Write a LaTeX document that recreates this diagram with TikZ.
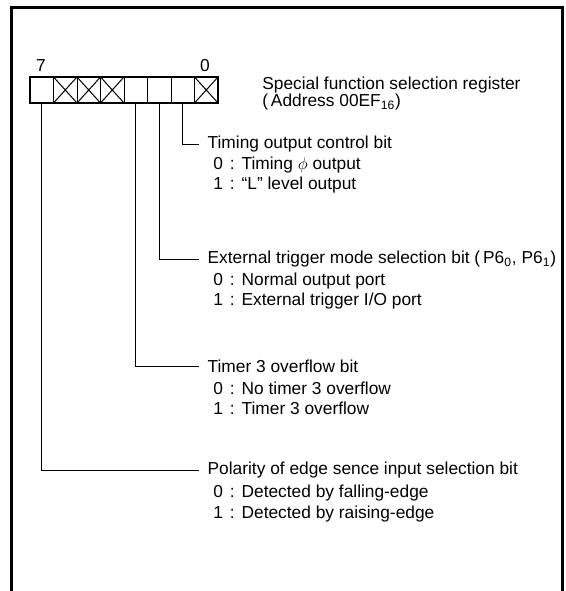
\documentclass[tikz,border=0pt]{standalone}
\usepackage{fontspec}
\setmainfont{Liberation Sans}
\usetikzlibrary{positioning}

\newcommand\bitopt[2]{#1\hspace{0.4em}:\hspace{0.4em}#2}

\begin{document}
\begin{tikzpicture}[
    x=0.6pt, y=-0.6pt,
    every node/.style={font=\fontsize{10.4}{12.5}\selectfont},
    frame/.style={line width=1.8pt},
    regbox/.style={line width=1.6pt},
    cell/.style={line width=0.6pt},
    leader/.style={line width=0.6pt},
    hdr/.style={anchor=west, inner xsep=5pt, inner ysep=1pt},
    choice/.style={anchor=west, inner sep=0pt}
]
\useasboundingbox (0,0) rectangle (566,591);

% outer frame, open at the bottom
\draw[frame] (11,591) |- (562,7) -- (562,591);

% register cells, bit 7 on the left
\foreach \i in {0,...,7}
    \draw[cell] ({30+23.5*\i},77) rectangle ++(23.5,26);
\foreach \i in {1,2,3,7}
    \draw[cell] ({30+23.5*\i},77) -- ++(23.5,26)
                ({30+23.5*\i},103) -- ++(23.5,-26);
\draw[regbox] (30,77) rectangle (218,103);
\foreach \i/\b in {0/7,4/3,5/2,6/1}
    \coordinate (b\b) at ({30+23.5*\i+11.75},103);

\node (msb) at (41,66) {7};
\node (lsb) at (205,66) {0};

\node[anchor=west, inner sep=0pt] (title) at (262,85) {Special function selection register};
\node[anchor=west, inner sep=0pt] (addr) at (262,102) {(\,Address 00EF\textsubscript{16})};

% bit 1
\node[hdr] (tmg) at (199,144) {Timing output control bit};
\node[choice] (tmg0) at (213,165) {\bitopt{0}{Timing $\phi$ output}};
\node[choice] (tmg1) at (213,185) {\bitopt{1}{``L'' level output}};

% bit 2
\node[hdr] (trg) at (199,259) {External trigger mode selection bit (\,P6\textsubscript{0}, P6\textsubscript{1})};
\node[choice] (trg0) at (213,281) {\bitopt{0}{Normal output port}};
\node[choice] (trg1) at (213,301) {\bitopt{1}{External trigger I/O port}};

% bit 3
\node[hdr] (tmr) at (199,366) {Timer 3 overflow bit};
\node[choice] (tmr0) at (213,388) {\bitopt{0}{No timer 3 overflow}};
\node[choice] (tmr1) at (213,408) {\bitopt{1}{Timer 3 overflow}};

% bit 7
\node[hdr] (pol) at (199,470) {Polarity of edge sence input selection bit};
\node[choice] (pol0) at (213,493) {\bitopt{0}{Detected by falling-edge}};
\node[choice] (pol1) at (213,514) {\bitopt{1}{Detected by raising-edge}};

\draw[leader] (b1) |- (tmg.west);
\draw[leader] (b2) |- (trg.west);
\draw[leader] (b3) |- (tmr.west);
\draw[leader] (b7) |- (pol.west);
\end{tikzpicture}
\end{document}
